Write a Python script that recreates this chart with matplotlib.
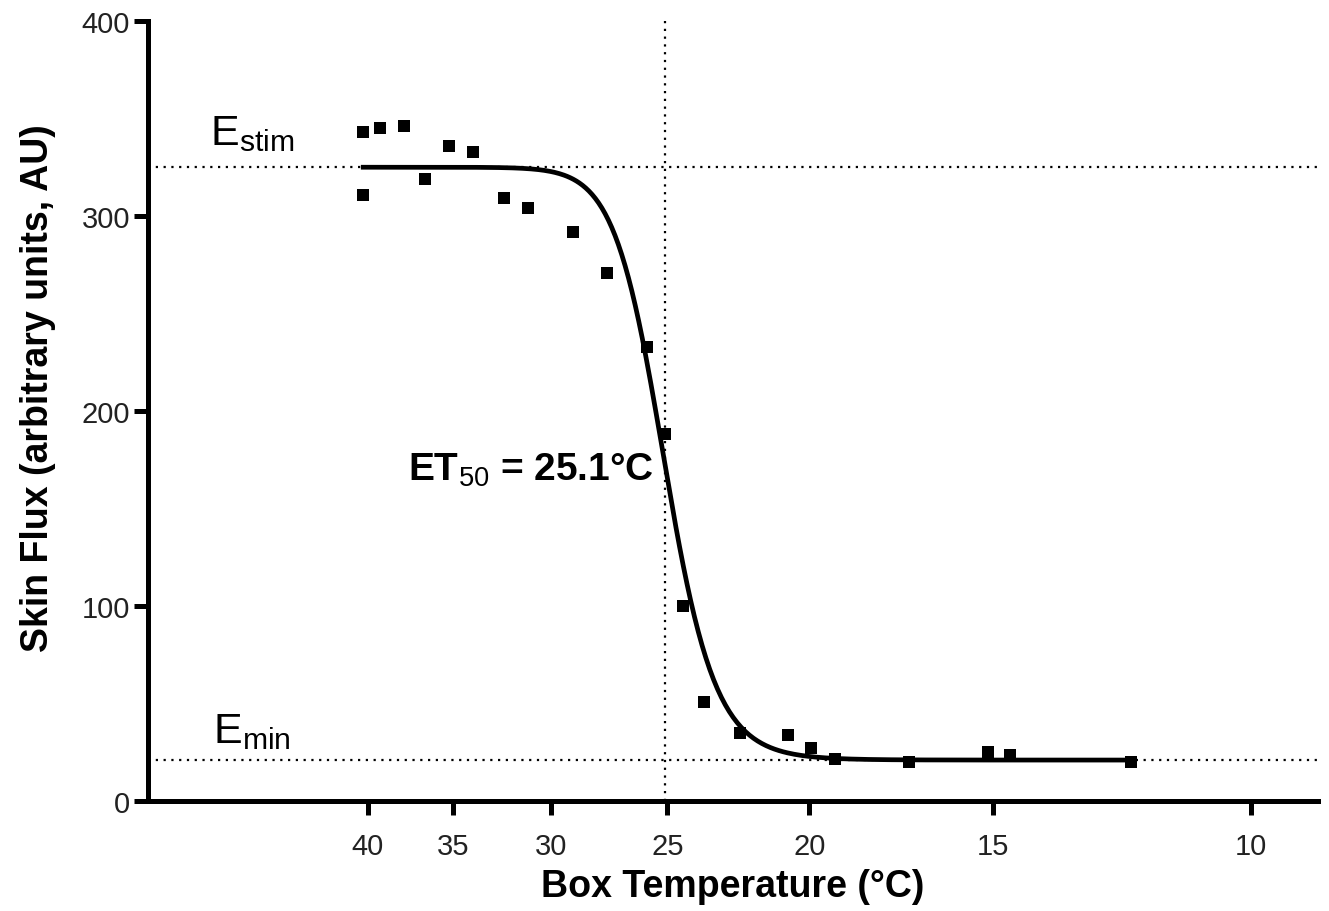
import matplotlib
matplotlib.use("Agg")
import matplotlib.pyplot as plt
from matplotlib.ticker import FixedLocator, FixedFormatter, NullLocator
import numpy as np

plt.rcParams['font.family'] = ['Liberation Sans', 'DejaVu Sans']
plt.rcParams['mathtext.fontset'] = 'custom'
plt.rcParams['mathtext.rm'] = 'Liberation Sans'
plt.rcParams['mathtext.bf'] = 'Liberation Sans:bold'

# measured points (box temperature, skin flux)
box_temp = [40.3, 40.3, 39.25, 37.8, 36.6, 35.2, 33.9, 32.3, 31.1, 29.0, 27.5,
            25.8, 25.1, 24.4, 23.6, 22.3, 20.7, 19.96, 19.2, 17.1, 15.1, 14.6, 12.07]
skin_flux = [343, 311, 345, 346, 319, 336, 333, 309, 304, 292, 271,
             233, 188, 100, 51, 35, 34, 27, 21.5, 20, 25, 23.6, 20]

# fitted sigmoid parameters
e_stim = 325
e_min = 21
et50 = 25.1
slope = 1.0

x_ticks = [40, 35, 30, 25, 20, 15, 10]
y_ticks = [0, 100, 200, 300, 400]


def sigmoid(t):
    return e_min + (e_stim - e_min) / (1 + np.exp((et50 - t) / slope))


def main():
    fig = plt.figure(figsize=(13.29, 9.12), dpi=100)
    ax = fig.add_axes([0.1114, 0.1206, 0.8803, 0.8553])

    t_fit = np.linspace(max(box_temp), min(box_temp), 400)

    ax.axhline(e_stim, color='black', lw=1.6, ls=(0, (1, 2.5)), zorder=1)
    ax.axhline(e_min, color='black', lw=1.6, ls=(0, (1, 2.5)), zorder=1)
    ax.axvline(et50, color='black', lw=1.6, ls=(0, (1, 2.5)), zorder=1)

    ax.plot(t_fit, sigmoid(t_fit), color='black', lw=3.4, zorder=3)
    ax.plot(box_temp, skin_flux, 's', color='black', ms=8.5, mew=0, zorder=4)

    ax.set_xscale('log')
    ax.set_xlim(56.5, 9.0)
    ax.set_ylim(0, 400)
    ax.xaxis.set_major_locator(FixedLocator(x_ticks))
    ax.xaxis.set_major_formatter(FixedFormatter([str(v) for v in x_ticks]))
    ax.xaxis.set_minor_locator(NullLocator())
    ax.set_yticks(y_ticks)

    for side in ['top', 'right']:
        ax.spines[side].set_visible(False)
    for side in ['left', 'bottom']:
        ax.spines[side].set_linewidth(3.6)
    ax.tick_params(axis='both', which='major', length=10, width=3.6,
                   labelsize=21, labelcolor='#222222')
    ax.tick_params(axis='x', pad=12)
    ax.tick_params(axis='y', pad=3)

    ax.set_xlabel('Box Temperature (°C)', fontsize=27, fontweight='bold', labelpad=6)
    ax.set_ylabel('Skin Flux (arbitrary units, AU)', fontsize=27, fontweight='bold')
    ax.yaxis.set_label_coords(-0.079, 0.53)

    ax.text(51.3, 337, r'E$_{\mathrm{stim}}$', fontsize=31, ha='left', va='baseline')
    ax.text(51.0, 30, r'E$_{\mathrm{min}}$', fontsize=31, ha='left', va='baseline')
    ax.text(25.55, 165, r'ET$_{50}$ = 25.1°C', fontsize=28, fontweight='bold',
            ha='right', va='baseline')

    fig.savefig('out.png', dpi=100)
    print("End of program")


if __name__ == '__main__':
    main()
